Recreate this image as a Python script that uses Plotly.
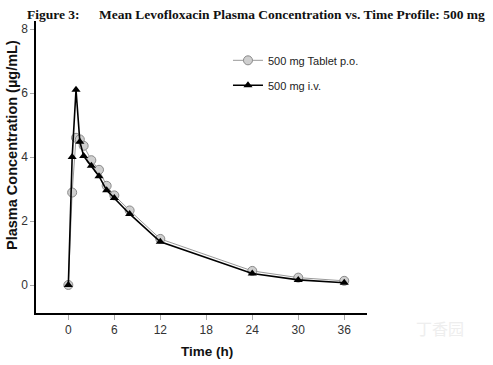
import plotly.graph_objects as go

time_tab = [0, 0.5, 1, 1.5, 2, 3, 4, 5, 6, 8, 12, 24, 30, 36]
conc_tab = [0, 2.89, 4.6, 4.55, 4.35, 3.9, 3.6, 3.1, 2.8, 2.33, 1.44, 0.44, 0.23, 0.13]
time_iv = [0, 0.5, 1, 1.5, 2, 3, 4, 5, 6, 8, 12, 24, 30, 36]
conc_iv = [0, 4.0, 6.1, 4.48, 4.03, 3.73, 3.4, 2.96, 2.72, 2.22, 1.35, 0.36, 0.16, 0.07]
x_ticks = [0, 6, 12, 18, 24, 30, 36]
y_ticks = [0, 2, 4, 6, 8]

PL, PT, PR, PB = 36, 21, 367, 313  # plot area in window pixels
W, H = 493, 365


def px(xw):
    return (xw - PL) / (PR - PL)


def py(yw):
    return (PB - yw) / (PB - PT)


fig = go.Figure()
fig.add_trace(go.Scatter(
    x=time_tab, y=conc_tab, mode="lines+markers", name="500 mg Tablet p.o.",
    line=dict(color="#9a9a9a", width=1),
    marker=dict(symbol="circle", size=9, color="#cfcfcf", line=dict(color="#8a8a8a", width=1)),
    legendgroup="a",
))
fig.add_trace(go.Scatter(
    x=time_iv, y=conc_iv, mode="lines+markers", name="500 mg i.v.",
    line=dict(color="black", width=1.6),
    marker=dict(symbol="triangle-up", size=8, color="black"),
    legendgroup="b",
))

axis_font = dict(family="Liberation Sans, Arial, sans-serif", size=12, color="#333")
serif = "Liberation Serif, Times New Roman, serif"
sans = "Liberation Sans, Arial, sans-serif"
fig.update_layout(
    width=W, height=H,
    margin=dict(l=PL, r=W - PR, t=PT, b=H - PB, autoexpand=False),
    paper_bgcolor="white", plot_bgcolor="white",
    showlegend=True,
    legend=dict(x=0.58, y=0.915, xanchor="left", yanchor="top",
                font=dict(family=sans, size=11, color="#222"),
                bgcolor="rgba(0,0,0,0)", tracegroupgap=6, itemwidth=30),
    xaxis=dict(range=[-4.22, 38.97], tickvals=x_ticks, showgrid=False, zeroline=False,
               showline=True, linecolor="black", linewidth=1.5, automargin=False,
               ticks="outside", ticklen=5, tickcolor="#aaa", tickfont=axis_font),
    yaxis=dict(range=[-0.875, 8.25], tickvals=y_ticks, showgrid=False, zeroline=False,
               showline=True, linecolor="black", linewidth=1.5, automargin=False,
               ticks="outside", ticklen=4, tickcolor="#aaa", tickfont=axis_font),
    annotations=[
        dict(text="<b>Figure 3:</b>", xref="paper", yref="paper", x=px(25), y=py(14),
             xanchor="left", yanchor="middle", showarrow=False,
             font=dict(family=serif, size=13.5, color="#111")),
        dict(text="<b>Mean Levofloxacin Plasma Concentration vs. Time Profile: 500 mg</b>",
             xref="paper", yref="paper", x=px(97), y=py(14),
             xanchor="left", yanchor="middle", showarrow=False,
             font=dict(family=serif, size=13.5, color="#111")),
        dict(text="<b>Plasma Concentration (µg/mL)</b>", xref="paper", yref="paper",
             x=px(12), y=py(145), textangle=-90,
             xanchor="center", yanchor="middle", showarrow=False,
             font=dict(family=sans, size=14.5, color="#111")),
        dict(text="<b>Time (h)</b>", xref="paper", yref="paper",
             x=px(207), y=py(351),
             xanchor="center", yanchor="middle", showarrow=False,
             font=dict(family=sans, size=13.5, color="#111")),
        dict(text="丁香园", xref="paper", yref="paper",
             x=px(440), y=py(328),
             xanchor="center", yanchor="middle", showarrow=False,
             font=dict(family="Noto Sans CJK SC", size=16, color="#eeeeee")),
    ],
)

fig.write_html("out.html", config={"displayModeBar": False},
               post_script="document.body.style.margin='0';")
